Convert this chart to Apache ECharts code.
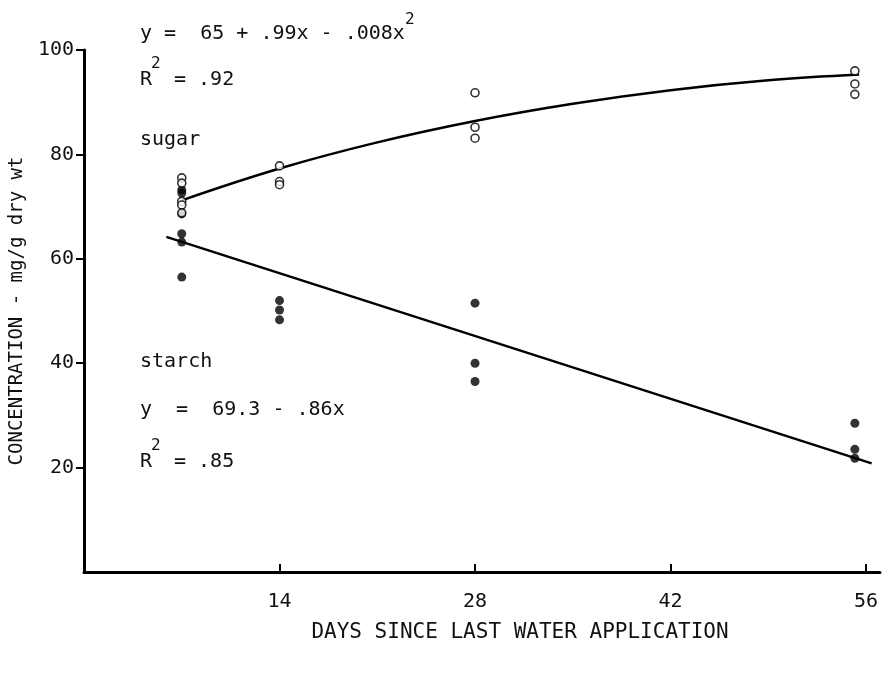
<!DOCTYPE html>
<html>
<head>
<meta charset="utf-8">
<script src="https://cdn.jsdelivr.net/npm/echarts@6/dist/echarts.min.js"></script>
<style>
  html, body { margin: 0; padding: 0; background: #fff; }
  #chart { width: 892px; height: 675px; }
</style>
</head>
<body>
<div id="chart"></div>
<script>
// values
const xTicks = [14, 28, 42, 56];
const yTicks = [20, 40, 60, 80, 100];

// sugar (open circles)
const sugarDays = [7, 7, 7, 7, 7, 14, 14, 14, 28, 28, 28, 55.2, 55.2, 55.2];
const sugarValues = [75.5, 74.5, 71, 70.3, 68.8, 77.8, 74.8, 74.2, 91.8, 85.2, 83.1, 96, 93.5, 91.5];

// starch (filled dots)
const starchDays = [7, 7, 7, 7, 7, 7, 14, 14, 14, 28, 28, 28, 55.2, 55.2, 55.2];
const starchValues = [73.2, 72.6, 68.6, 64.8, 63.2, 56.5, 52, 50.2, 48.3, 51.5, 40, 36.5, 28.5, 23.5, 21.8];

// fitted curves as drawn
const sugarFitDays = [7, 14, 21, 28, 35, 42, 49, 55.5];
const sugarFitValues = [71.2, 77.3, 82.3, 86.4, 89.7, 92.3, 94.2, 95.3];
const starchFitDays = [5.9, 56.4];
const starchFitValues = [64.2, 20.8];

const FONT = 'DejaVu Sans Mono';

function pairs(xs, ys) {
  return xs.map((x, i) => [x, ys[i]]);
}

const chart = echarts.init(document.getElementById('chart'));

const option = {
  backgroundColor: '#fff',
  animation: false,
  grid: {
    left: 83,
    right: 12,
    top: 50,
    bottom: 103,
  },
  xAxis: {
    type: 'value',
    min: 0,
    max: 57,
    name: 'DAYS SINCE LAST WATER APPLICATION',
    nameLocation: 'middle',
    nameGap: 50,
    nameTextStyle: {
      fontFamily: FONT,
      fontSize: 21,
      color: '#111',
      padding: [0, 0, 0, 76],
    },
    splitLine: { show: false },
    axisLine: { lineStyle: { color: '#000', width: 3 } },
    axisTick: {
      inside: true,
      length: 8,
      customValues: xTicks,
      lineStyle: { color: '#000', width: 2 },
    },
    axisLabel: {
      customValues: xTicks,
      margin: 20,
      fontFamily: FONT,
      fontSize: 20,
      color: '#111',
    },
  },
  yAxis: {
    type: 'value',
    min: 0,
    max: 100,
    name: 'CONCENTRATION - mg/g dry wt',
    nameLocation: 'middle',
    nameGap: 54,
    nameTextStyle: {
      fontFamily: FONT,
      fontSize: 19,
      color: '#111',
    },
    splitLine: { show: false },
    axisLine: { lineStyle: { color: '#000', width: 3 } },
    axisTick: {
      length: 8,
      customValues: yTicks,
      lineStyle: { color: '#000', width: 2 },
    },
    axisLabel: {
      customValues: yTicks,
      margin: 10,
      fontFamily: FONT,
      fontSize: 20,
      color: '#111',
    },
  },
  series: [
    {
      name: 'sugar fit',
      type: 'line',
      data: pairs(sugarFitDays, sugarFitValues),
      smooth: 0.4,
      showSymbol: false,
      lineStyle: { color: '#000', width: 2.5 },
      z: 1,
    },
    {
      name: 'starch fit',
      type: 'line',
      data: pairs(starchFitDays, starchFitValues),
      showSymbol: false,
      lineStyle: { color: '#000', width: 2.5 },
      z: 1,
    },
    {
      name: 'sugar',
      type: 'scatter',
      data: pairs(sugarDays, sugarValues),
      symbol: 'circle',
      symbolSize: 8,
      itemStyle: { color: '#fff', borderColor: '#000', borderWidth: 1.6 },
      z: 3,
    },
    {
      name: 'starch',
      type: 'scatter',
      data: pairs(starchDays, starchValues),
      symbol: 'circle',
      symbolSize: 9,
      itemStyle: { color: '#000' },
      z: 2,
    },
  ],
  graphic: [
    // sugar equation
    { type: 'text', left: 140, top: 24, style: { text: 'y =  65 + .99x - .008x', font: '20px ' + FONT, fill: '#111' } },
    { type: 'text', left: 405, top: 12, style: { text: '2', font: '16px ' + FONT, fill: '#111' } },
    { type: 'text', left: 140, top: 70, style: { text: 'R', font: '20px ' + FONT, fill: '#111' } },
    { type: 'text', left: 151, top: 56, style: { text: '2', font: '16px ' + FONT, fill: '#111' } },
    { type: 'text', left: 174, top: 70, style: { text: '= .92', font: '20px ' + FONT, fill: '#111' } },
    { type: 'text', left: 140, top: 130, style: { text: 'sugar', font: '20px ' + FONT, fill: '#111' } },
    // starch equation
    { type: 'text', left: 140, top: 352, style: { text: 'starch', font: '20px ' + FONT, fill: '#111' } },
    { type: 'text', left: 140, top: 400, style: { text: 'y  =  69.3 - .86x', font: '20px ' + FONT, fill: '#111' } },
    { type: 'text', left: 140, top: 452, style: { text: 'R', font: '20px ' + FONT, fill: '#111' } },
    { type: 'text', left: 151, top: 438, style: { text: '2', font: '16px ' + FONT, fill: '#111' } },
    { type: 'text', left: 174, top: 452, style: { text: '= .85', font: '20px ' + FONT, fill: '#111' } },
  ],
};

chart.setOption(option);
</script>
</body>
</html>
